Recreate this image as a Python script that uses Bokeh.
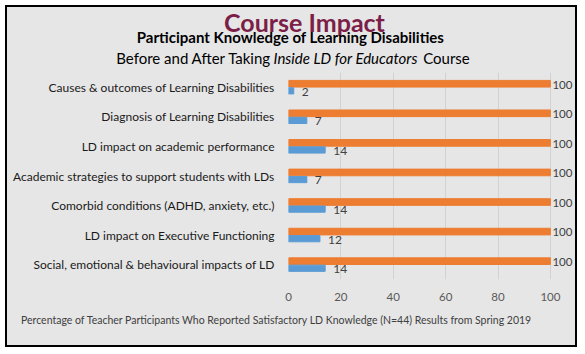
from bokeh.plotting import figure
from bokeh.layouts import column
from bokeh.models import ColumnDataSource, FactorRange, Range1d, FixedTicker
from bokeh.core.properties import value
from bokeh.transform import dodge
from bokeh.embed import file_html
from bokeh.resources import INLINE

categories = [
    "Causes & outcomes of Learning Disabilities",
    "Diagnosis of Learning Disabilities",
    "LD impact on academic performance",
    "Academic strategies to support students with LDs",
    "Comorbid conditions (ADHD, anxiety, etc.)",
    "LD impact on Executive Functioning",
    "Social, emotional & behavioural impacts of LD",
]
before = [2, 7, 14, 7, 14, 12, 14]
after = [100, 100, 100, 100, 100, 100, 100]
x_ticks = [0, 20, 40, 60, 80, 100]

title = "Course Impact"
subtitle = "Participant Knowledge of Learning Disabilities"
line3 = ["Before and After Taking", "Inside LD for Educators", "Course"]
footer = "Percentage of Teacher Participants Who Reported Satisfactory LD Knowledge (N=44) Results from Spring 2019"

BG = "#e6e6e6"
ORANGE = "#ED7D31"
BLUE = "#5B9BD5"
FONT = "Lato"
W = 568
DY = -5.5  # baseline correction for text glyphs


def blank(h, y0, y1):
    f = figure(width=W, height=h, x_range=Range1d(7, 7 + W), y_range=Range1d(y1, y0),
               output_backend="svg", toolbar_location=None,
               min_border=0, background_fill_color=BG, border_fill_color=BG,
               outline_line_color=None, frame_align=False)
    f.axis.visible = False
    f.grid.visible = False
    return f


def txt(f, x, y, t, size, style="normal", color="black", align="left"):
    f.text(x=[x], y=[y + DY], text=[t], text_font=value(FONT), text_font_size=size,
           text_font_style=style, text_color=color, text_align=align,
           text_baseline="alphabetic")


# ---- header ----
top = blank(65, 7, 72)
txt(top, 304, 26.5, title, "25px", "bold", "#7B1E48", "center")
txt(top, 290, 41.7, subtitle, "15px", "bold", "black", "center")
txt(top, 115.7, 62.5, line3[0], "15px")
txt(top, 273, 62.5, line3[1], "15px", "italic")
txt(top, 422.7, 62.5, line3[2], "15px")

# ---- main chart ----
p = figure(width=W, height=235,
           y_range=FactorRange(factors=categories[::-1]),
           x_range=Range1d(0, 109.2),
           output_backend="svg", toolbar_location=None,
           min_border_left=281, min_border_right=1,
           min_border_top=0, min_border_bottom=28,
           background_fill_color=BG, border_fill_color=BG,
           outline_line_color=None, frame_align=False)

src = ColumnDataSource(dict(cat=categories, before=before, after=after,
                            before_txt=[str(v) for v in before],
                            after_txt=[str(v) for v in after]))

p.hbar(y=dodge("cat", 0.12, range=p.y_range), right="after", left=0, height=0.225,
       source=src, color=ORANGE)
p.hbar(y=dodge("cat", -0.12, range=p.y_range), right="before", left=0, height=0.21,
       source=src, color=BLUE)

p.text(x="after", y=dodge("cat", 0.09, range=p.y_range), text="after_txt",
       source=src, x_offset=2, text_baseline="middle",
       text_font=value(FONT), text_font_size="11.5px", text_color="#404040")
p.text(x="before", y=dodge("cat", -0.15, range=p.y_range), text="before_txt",
       source=src, x_offset=8, text_baseline="middle",
       text_font=value(FONT), text_font_size="12px", text_color="#404040")

p.xaxis.ticker = FixedTicker(ticks=x_ticks)
p.xgrid.grid_line_color = "#d2d2d2"
p.ygrid.grid_line_color = None
for ax in (p.xaxis[0], p.yaxis[0]):
    ax.axis_line_color = None
    ax.major_tick_line_color = None
    ax.minor_tick_line_color = None
    ax.major_label_text_font = FONT
p.xaxis.major_label_text_font_size = "11.5px"
p.yaxis.major_label_text_font_size = "12px"
p.xaxis.major_label_text_color = "#595959"
p.xaxis.major_label_standoff = 7
p.yaxis.major_label_text_color = "#1a1a1a"
p.yaxis.major_label_standoff = 8

# ---- footer ----
bot = blank(38, 307, 345)
txt(bot, 20.5, 324.5, footer, "10.5px", "normal", "#404040")

layout = column(top, p, bot, spacing=0, margin=(5, 0, 0, 5),
                styles={"border": "2px solid black", "background-color": BG})

open("out.html", "w").write(file_html(layout, INLINE))
